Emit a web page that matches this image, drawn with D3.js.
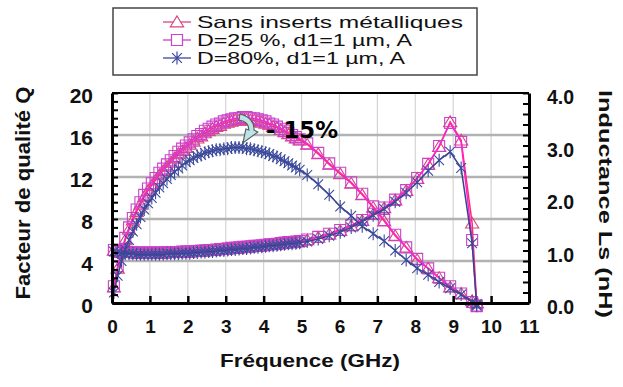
<!DOCTYPE html>
<html>
<head>
<meta charset="utf-8">
<script src="https://cdn.jsdelivr.net/npm/d3@7"></script>
<style>
  body { margin: 0; background: #fff; }
  svg { display: block; font-family: "Liberation Sans", Arial, sans-serif; }
</style>
</head>
<body>
<svg id="chart" width="623" height="387"></svg>
<script>
// frequencies (GHz) of the plotted points
var freq = [0.05,0.15,0.25,0.35,0.45,0.55,0.65,0.75,0.85,0.95,1.05,1.15,1.25,1.35,1.45,1.55,1.65,1.75,1.85,1.95,
  2.05,2.15,2.25,2.35,2.45,2.55,2.65,2.75,2.85,2.95,3.05,3.15,3.25,3.35,3.45,3.55,3.65,3.75,3.85,3.95,
  4.05,4.15,4.25,4.35,4.45,4.55,4.65,4.75,4.85,4.95,5.15,5.44,5.73,6.02,6.31,6.6,6.89,7.18,7.47,7.76,
  8.05,8.34,8.63,8.92,9.21,9.5,9.62];

// quality factor Q
var qSans = [1.5,3.3,4.8,6.0,7.0,7.9,8.7,9.4,10.1,10.7,11.2,11.7,12.2,12.6,13.0,13.4,13.8,14.2,14.5,14.8,
  15.1,15.4,15.7,15.9,16.2,16.4,16.6,16.8,16.9,17.1,17.2,17.3,17.4,17.4,17.5,17.5,17.4,17.4,17.3,17.2,
  17.1,17.0,16.8,16.7,16.5,16.3,16.1,15.9,15.7,15.5,15.1,14.2,13.2,12.3,11.4,10.3,9.1,7.8,6.4,5.3,
  4.1,3.3,2.4,1.5,0.9,0.2,0.0];
var qD25 = [1.6,3.5,5.0,6.2,7.2,8.1,8.9,9.6,10.3,10.9,11.4,11.9,12.4,12.8,13.2,13.6,14.0,14.4,14.7,15.0,
  15.3,15.6,15.9,16.1,16.4,16.6,16.8,17.0,17.1,17.3,17.4,17.5,17.6,17.6,17.7,17.7,17.6,17.6,17.5,17.4,
  17.3,17.1,17.0,16.8,16.6,16.4,16.2,16.0,15.8,15.6,15.2,14.3,13.3,12.4,11.5,10.4,9.2,7.9,6.5,5.3,
  4.2,3.3,2.4,1.6,0.9,0.1,-0.3];
var qD80 = [1.0,2.6,4.0,5.1,6.0,6.8,7.5,8.2,8.9,9.5,10.0,10.5,11.0,11.4,11.8,12.2,12.5,12.8,13.1,13.4,
  13.6,13.8,14.0,14.1,14.3,14.4,14.5,14.6,14.6,14.7,14.7,14.8,14.8,14.8,14.8,14.7,14.7,14.6,14.5,14.4,
  14.3,14.2,14.0,13.9,13.7,13.5,13.3,13.1,12.9,12.7,12.2,11.3,10.3,9.2,8.3,7.3,6.6,5.9,5.0,4.1,
  3.3,2.7,2.0,1.4,0.8,0.1,-0.1];

// inductance Ls (nH)
var lSans = [1.00,0.98,0.97,0.96,0.96,0.96,0.95,0.95,0.95,0.95,0.95,0.95,0.95,0.95,0.96,0.96,0.96,0.96,0.97,0.97,
  0.97,0.98,0.98,0.99,0.99,1.00,1.00,1.01,1.02,1.02,1.03,1.04,1.04,1.05,1.06,1.06,1.07,1.08,1.08,1.09,
  1.10,1.11,1.11,1.12,1.13,1.14,1.15,1.15,1.16,1.17,1.20,1.25,1.31,1.38,1.47,1.57,1.69,1.81,1.96,2.14,
  2.37,2.64,2.98,3.45,3.10,1.52,0.00];
var lD25 = [1.01,0.99,0.98,0.97,0.97,0.97,0.96,0.96,0.96,0.96,0.96,0.96,0.96,0.96,0.97,0.97,0.97,0.97,0.98,0.98,
  0.98,0.99,0.99,1.00,1.00,1.01,1.01,1.02,1.03,1.03,1.04,1.05,1.05,1.06,1.07,1.07,1.08,1.09,1.09,1.10,
  1.11,1.12,1.12,1.13,1.14,1.15,1.16,1.16,1.17,1.18,1.21,1.26,1.32,1.39,1.48,1.58,1.70,1.82,1.97,2.15,
  2.38,2.65,2.99,3.43,3.07,1.20,-0.05];
var lD80 = [0.98,0.96,0.95,0.94,0.94,0.94,0.93,0.93,0.93,0.93,0.93,0.93,0.93,0.93,0.94,0.94,0.94,0.94,0.95,0.95,
  0.95,0.96,0.96,0.97,0.97,0.98,0.98,0.99,1.00,1.00,1.01,1.02,1.02,1.03,1.04,1.04,1.05,1.06,1.06,1.07,
  1.08,1.09,1.09,1.10,1.11,1.12,1.13,1.13,1.14,1.15,1.17,1.22,1.28,1.35,1.44,1.55,1.67,1.79,1.93,2.10,
  2.30,2.52,2.72,2.88,2.57,1.14,-0.05];

var seriesNames = ["Sans inserts métalliques", "D=25 %, d1=1 µm, A", "D=80%, d1=1 µm, A"];
var xTicks = [0,1,2,3,4,5,6,7,8,9,10,11];
var qTicks = [0,4,8,12,16,20];
var lTicks = [0,1,2,3,4];
var qGrid = [4,8,12,16];
var xGrid = [1,2,3,4,5,6,7,8,9,10];

var series = [
  { name: seriesNames[0], q: qSans, l: lSans, sym: "tri", line: "#ff2a6e", mark: "#d8457c" },
  { name: seriesNames[1], q: qD25, l: lD25, sym: "sq", line: "#ff22cc", mark: "#cc40cc" },
  { name: seriesNames[2], q: qD80, l: lD80, sym: "ast", line: "#37428f", mark: "#3c4a9c" }
];

var svg = d3.select("#chart");
var x = d3.scaleLinear().domain([0, 11]).range([112, 529]);
var yQ = d3.scaleLinear().domain([0, 20]).range([303, 93]);
var yL = d3.scaleLinear().domain([0, 4]).range([303, 93]);

function markerPath(type, s) {
  if (type == "tri") return "M0," + (-s) + "L" + (s * 1.1) + "," + (s * 0.8) + "L" + (-s * 1.1) + "," + (s * 0.8) + "Z";
  if (type == "sq") return "M" + (-s) + "," + (-s) + "H" + s + "V" + s + "H" + (-s) + "Z";
  var d = s * 0.75;
  return "M0," + (-s) + "V" + s + "M" + (-d) + "," + (-d) + "L" + d + "," + d + "M" + (-d) + "," + d + "L" + d + "," + (-d);
}
var markSize = { tri: 6, sq: 5.5, ast: 6.5 };

// grid
svg.append("g").selectAll("line").data(xGrid).enter().append("line")
  .attr("x1", function (d) { return x(d); }).attr("x2", function (d) { return x(d); })
  .attr("y1", yQ(20)).attr("y2", yQ(0))
  .attr("stroke", "#d4d4d4").attr("stroke-width", 1.2);
svg.append("g").selectAll("line").data(qGrid).enter().append("line")
  .attr("x1", x(0)).attr("x2", x(11))
  .attr("y1", function (d) { return yQ(d); }).attr("y2", function (d) { return yQ(d); })
  .attr("stroke", "#b2b2b2").attr("stroke-width", 2.5);

// series
series.forEach(function (s) {
  var g = svg.append("g");
  [[s.q, yQ], [s.l, yL]].forEach(function (pair) {
    var vals = pair[0], ys = pair[1];
    var pts = freq.map(function (f, i) { return [f, vals[i]]; });
    g.append("path")
      .attr("d", d3.line().x(function (d) { return x(d[0]); }).y(function (d) { return ys(d[1]); })(pts))
      .attr("fill", "none").attr("stroke", s.line).attr("stroke-width", 1.5);
    g.selectAll(null).data(pts).enter().append("path")
      .attr("transform", function (d) { return "translate(" + x(d[0]) + "," + ys(d[1]) + ")"; })
      .attr("d", markerPath(s.sym, markSize[s.sym]))
      .attr("fill", "none").attr("stroke", s.mark).attr("stroke-width", 1.1);
  });
});

// annotation: curved arrow and "- 15%"
var ax = x(3.4), ay = yQ(17.9);
svg.append("path")
  .attr("transform", "translate(" + ax + "," + ay + ")")
  .attr("d", "M-1,-1 C8,1 14,7 13,15 L17,17 L2,28 L5,14 L8,15 C8,10 5,6 -2,5 Z")
  .attr("fill", "#bfe2e2").attr("stroke", "#4d5c64").attr("stroke-width", 1.1);
svg.append("text").attr("x", 266).attr("y", 138)
  .attr("font-family", "DejaVu Sans").attr("font-weight", "bold").attr("font-size", 23)
  .attr("textLength", 72).attr("lengthAdjust", "spacingAndGlyphs")
  .text("- 15%");

// axes
var minorQ = d3.range(0, 20.01, 0.8);
var minorL = d3.range(0, 4.01, 0.2);

var bottom = svg.append("g").attr("transform", "translate(0,303)")
  .call(d3.axisBottom(x).tickValues(xTicks).tickSizeInner(-7).tickSizeOuter(0).tickPadding(30).tickFormat(d3.format("d")));
bottom.select(".domain").attr("stroke", "#000").attr("stroke-width", 3);
bottom.selectAll(".tick line").attr("stroke", "#000").attr("stroke-width", 2.5);
bottom.selectAll(".tick").filter(function (d) { return d == 0 || d == 11; }).select("line").remove();
bottom.selectAll("text").attr("font-size", 19).attr("font-weight", "bold").attr("fill", "#111").attr("dy", 0);

var left = svg.append("g").attr("transform", "translate(112,0)")
  .call(d3.axisLeft(yQ).tickValues(minorQ).tickSizeInner(-6).tickSizeOuter(0).tickFormat(""));
left.select(".domain").attr("stroke", "#000").attr("stroke-width", 3);
left.selectAll(".tick line").attr("stroke", "#000").attr("stroke-width", 2);
var leftLab = svg.append("g").attr("transform", "translate(112,0)")
  .call(d3.axisLeft(yQ).tickValues(qTicks).tickSize(0).tickPadding(19).tickFormat(d3.format("d")));
leftLab.select(".domain").remove();
leftLab.selectAll("text").attr("font-size", 21).attr("font-weight", "bold").attr("fill", "#111").attr("dy", "0.45em");

var right = svg.append("g").attr("transform", "translate(529,0)")
  .call(d3.axisRight(yL).tickValues(minorL).tickSizeInner(-6).tickSizeOuter(0).tickFormat(""));
right.select(".domain").attr("stroke", "#000").attr("stroke-width", 3);
right.selectAll(".tick line").attr("stroke", "#000").attr("stroke-width", 2);
var rightLab = svg.append("g").attr("transform", "translate(529,0)")
  .call(d3.axisRight(yL).tickValues(lTicks).tickSize(0).tickPadding(18).tickFormat(d3.format(".1f")));
rightLab.select(".domain").remove();
rightLab.selectAll("text").attr("font-size", 19.5).attr("font-weight", "bold").attr("fill", "#111").attr("dy", "0.55em");

// top border
svg.append("line").attr("x1", x(0)).attr("x2", x(11)).attr("y1", yQ(20)).attr("y2", yQ(20))
  .attr("stroke", "#000").attr("stroke-width", 2);

// axis titles
svg.append("text").attr("x", 310).attr("y", 367).attr("text-anchor", "middle")
  .attr("font-size", 19).attr("font-weight", "bold").attr("fill", "#111")
  .attr("textLength", 180).attr("lengthAdjust", "spacingAndGlyphs")
  .text("Fréquence (GHz)");
svg.append("text").attr("transform", "translate(30,193) rotate(-90)").attr("text-anchor", "middle")
  .attr("font-size", 20).attr("font-weight", "bold").attr("fill", "#111")
  .attr("textLength", 213).attr("lengthAdjust", "spacingAndGlyphs")
  .text("Facteur de qualité Q");
svg.append("text").attr("transform", "translate(599,204) rotate(90)").attr("text-anchor", "middle")
  .attr("font-size", 19).attr("font-weight", "bold").attr("fill", "#111")
  .attr("textLength", 228).attr("lengthAdjust", "spacingAndGlyphs")
  .text("Inductance Ls (nH)");

// legend
var legend = svg.append("g");
legend.append("rect").attr("x", 113).attr("y", 8).attr("width", 364).attr("height", 67)
  .attr("fill", "#fff").attr("stroke", "#444").attr("stroke-width", 1.5);
var legendLen = [266, 215, 208];
var legendBase = [28, 46, 64];
series.forEach(function (s, i) {
  var cy = legendBase[i] - 6;
  legend.append("line").attr("x1", 163).attr("x2", 191).attr("y1", cy).attr("y2", cy)
    .attr("stroke", s.mark).attr("stroke-width", 1.3);
  legend.append("path").attr("transform", "translate(177," + cy + ")")
    .attr("d", markerPath(s.sym, markSize[s.sym]))
    .attr("fill", "#fff").attr("stroke", s.mark).attr("stroke-width", 1.2);
  legend.append("text").attr("x", 197).attr("y", legendBase[i])
    .attr("font-size", 16.5).attr("fill", "#111")
    .attr("textLength", legendLen[i]).attr("lengthAdjust", "spacingAndGlyphs")
    .text(s.name);
});
</script>
</body>
</html>
